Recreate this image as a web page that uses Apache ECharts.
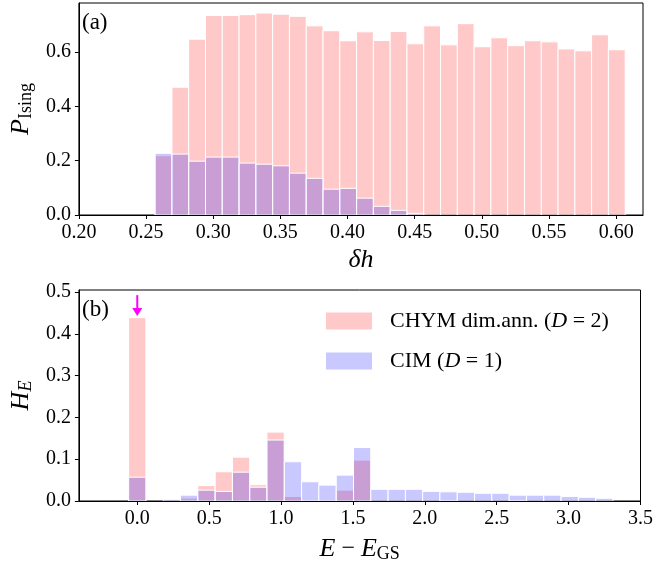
<!DOCTYPE html>
<html><head><meta charset="utf-8">
<script src="https://cdn.jsdelivr.net/npm/echarts@6/dist/echarts.min.js"></script>
<style>html,body{margin:0;padding:0;background:#fff}#c{width:656px;height:564px}</style>
</head><body><div id="c"></div>
<script>
// ---- Panel (a): P_Ising histogram vs delta h ----
const topBins = [0.263,0.2755,0.288,0.3005,0.313,0.3255,0.338,0.3505,0.363,0.3755,0.388,0.4005,0.413,0.4255,
                 0.438,0.4505,0.463,0.4755,0.488,0.5005,0.513,0.5255,0.538,0.5505,0.563,0.5755,0.588,0.6005];
const topBinWidth = 0.0125;
const topCHYM = [0.218,0.470,0.647,0.734,0.734,0.737,0.743,0.739,0.731,0.696,0.678,0.641,0.674,0.642,
                 0.675,0.630,0.696,0.626,0.704,0.619,0.652,0.623,0.641,0.637,0.611,0.604,0.663,0.608];
const topCIM  = [0.227,0.224,0.198,0.213,0.213,0.191,0.187,0.181,0.154,0.135,0.095,0.098,0.062,0.032,
                 0.017,0.006,0,0,0,0,0,0,0,0,0,0,0,0];
const topXTicks = [0.20,0.25,0.30,0.35,0.40,0.45,0.50,0.55,0.60];
const topYTicks = [0.0,0.2,0.4,0.6];

// ---- Panel (b): H_E histogram vs E - E_GS ----
const botBins = [0,0.120,0.241,0.361,0.481,0.602,0.722,0.842,0.962,1.083,1.203,1.323,1.444,1.564,
                 1.684,1.805,1.925,2.045,2.165,2.286,2.406,2.526,2.647,2.767,2.887,3.008,3.128,3.248];
const botBinWidth = 0.1203;
const botCHYM = [0.439,0,0,0.007,0.037,0.070,0.105,0.039,0.165,0.011,0.001,0.002,0.026,0.098,
                 0,0,0,0,0.001,0,0,0,0.001,0,0,0,0,0];
const botCIM  = [0.057,0,0.004,0.014,0.026,0.023,0.069,0.033,0.146,0.094,0.046,0.038,0.062,0.128,
                 0.028,0.028,0.028,0.023,0.022,0.021,0.0185,0.0185,0.014,0.014,0.014,0.011,0.009,0.0065];
const botXTicks = [0.0,0.5,1.0,1.5,2.0,2.5,3.0,3.5];
const botYTicks = [0.0,0.1,0.2,0.3,0.4,0.5];

// ground-state arrow (x, from, to)
const arrowData = [[0, 0.493, 0.443]];

const nameA = 'CHYM dim.ann. (D = 2)';
const nameB = 'CIM (D = 1)';
const FONT = "'Liberation Serif','Times New Roman',serif";
const pink = 'rgba(255,0,0,0.21)';
const blue = 'rgba(0,0,255,0.21)';

function histRender(width){
  return function(params, api){
    const x = api.value(0), y = api.value(1);
    if (!(y > 0)) return null;
    const p0 = api.coord([x - width/2, 0]);
    const p1 = api.coord([x + width/2, y]);
    return {type:'rect',
      shape:{x:p0[0], y:p1[1], width:p1[0]-p0[0], height:p0[1]-p1[1]},
      style:{fill: api.visual('color'), stroke:'#ffffff', lineWidth:1}};
  };
}
function pairs(xs, ys){ return xs.map((x,i)=>[x, ys[i]]); }

function arrowRender(params, api){
  const x = api.value(0);
  const a = api.coord([x, api.value(1)]);
  const b = api.coord([x, api.value(2)]);
  const headH = 8, headW = 5;
  return {type:'group', children:[
    {type:'line', shape:{x1:a[0], y1:a[1], x2:b[0], y2:b[1]-headH+1}, style:{stroke:'#ff00ff', lineWidth:2}},
    {type:'polygon', shape:{points:[[b[0]-headW,b[1]-headH],[b[0]+headW,b[1]-headH],[b[0],b[1]]]}, style:{fill:'#ff00ff'}}
  ]};
}

const tickLabel = {fontFamily:FONT, fontSize:20, color:'#000'};
function xAxisCfg(idx, min, max, ticks, nameRich, gap, dec){
  return {gridIndex:idx, type:'value', min:min, max:max,
    axisLine:{show:true, onZero:false, lineStyle:{color:'#000', width:1}},
    axisTick:{show:true, inside:false, length:4, lineStyle:{color:'#000'}, customValues:ticks},
    axisLabel:Object.assign({margin:8, customValues:ticks, formatter:v=>v.toFixed(dec)}, tickLabel),
    splitLine:{show:false},
    name:nameRich.text, nameLocation:'middle', nameGap:gap,
    nameTextStyle:{fontFamily:FONT, fontSize:24, color:'#000', rich:nameRich.rich}};
}
function yAxisCfg(idx, min, max, ticks, nameRich, gap){
  return {gridIndex:idx, type:'value', min:min, max:max,
    axisLine:{show:true, onZero:false, lineStyle:{color:'#000', width:1}},
    axisTick:{show:true, inside:false, length:4, lineStyle:{color:'#000'}, customValues:ticks},
    axisLabel:Object.assign({margin:8, customValues:ticks, formatter:v=>v.toFixed(1)}, tickLabel),
    splitLine:{show:false},
    name:nameRich.text, nameLocation:'middle', nameGap:gap, nameRotate:90,
    nameTextStyle:{fontFamily:FONT, fontSize:26, color:'#000', rich:nameRich.rich}};
}
const subRich = {
  m:{fontFamily:FONT, fontSize:26, fontStyle:'italic', color:'#000'},
  r:{fontFamily:FONT, fontSize:24, color:'#000'},
  s:{fontFamily:FONT, fontSize:18, color:'#000', padding:[10,0,0,0]},
  si:{fontFamily:FONT, fontSize:18, fontStyle:'italic', color:'#000', padding:[10,0,0,0]}
};

const chart = echarts.init(document.getElementById('c'), null, {renderer:'canvas'});
chart.setOption({
  animation:false,
  backgroundColor:'#fff',
  grid:[
    {left:78, right:13, top:3, bottom:349, show:true, borderColor:'#000', borderWidth:1, backgroundColor:'transparent'},
    {left:78, right:14, top:290, bottom:63, show:true, borderColor:'#000', borderWidth:1, backgroundColor:'transparent'}
  ],
  xAxis:[
    xAxisCfg(0, 0.20, 0.62, topXTicks, {text:'{m|δh}', rich:subRich}, 32, 2),
    xAxisCfg(1, -0.406, 3.5, botXTicks, {text:'{m|E}{r| − }{m|E}{s|GS}', rich:subRich}, 34, 1)
  ],
  yAxis:[
    yAxisCfg(0, 0, 0.78, topYTicks, {text:'{m|P}{s|Ising}', rich:subRich}, 42),
    yAxisCfg(1, 0, 0.5053, botYTicks, {text:'{m|H}{si|E}', rich:subRich}, 42)
  ],
  legend:{
    orient:'vertical', left:326, top:310, padding:0, itemGap:18,
    itemWidth:46, itemHeight:17, icon:'rect',
    data:[nameA, nameB],
    formatter:function(n){
      return n === nameA ? '{g|}{t|CHYM dim.ann. (}{i|D}{t| = 2)}' : '{g|}{t|CIM (}{i|D}{t| = 1)}';
    },
    textStyle:{fontFamily:FONT, fontSize:22, color:'#000', rich:{
      g:{width:13},
      t:{fontFamily:FONT, fontSize:22, color:'#000'},
      i:{fontFamily:FONT, fontSize:22, fontStyle:'italic', color:'#000'}
    }}
  },
  graphic:[
    {type:'text', left:82, top:11, style:{text:'(a)', font:'23px '+FONT, fill:'#000'}},
    {type:'text', left:82, top:298, style:{text:'(b)', font:'23px '+FONT, fill:'#000'}}
  ],
  series:[
    {name:nameA, type:'custom', xAxisIndex:0, yAxisIndex:0, renderItem:histRender(topBinWidth),
     itemStyle:{color:pink}, data:pairs(topBins, topCHYM), clip:true},
    {name:nameB, type:'custom', xAxisIndex:0, yAxisIndex:0, renderItem:histRender(topBinWidth),
     itemStyle:{color:blue}, data:pairs(topBins, topCIM), clip:true},
    {name:nameA, type:'custom', xAxisIndex:1, yAxisIndex:1, renderItem:histRender(botBinWidth),
     itemStyle:{color:pink}, data:pairs(botBins, botCHYM), clip:true},
    {name:nameB, type:'custom', xAxisIndex:1, yAxisIndex:1, renderItem:histRender(botBinWidth),
     itemStyle:{color:blue}, data:pairs(botBins, botCIM), clip:true},
    {type:'custom', xAxisIndex:1, yAxisIndex:1, renderItem:arrowRender, data:arrowData, silent:true, z:5}
  ]
});
</script></body></html>
